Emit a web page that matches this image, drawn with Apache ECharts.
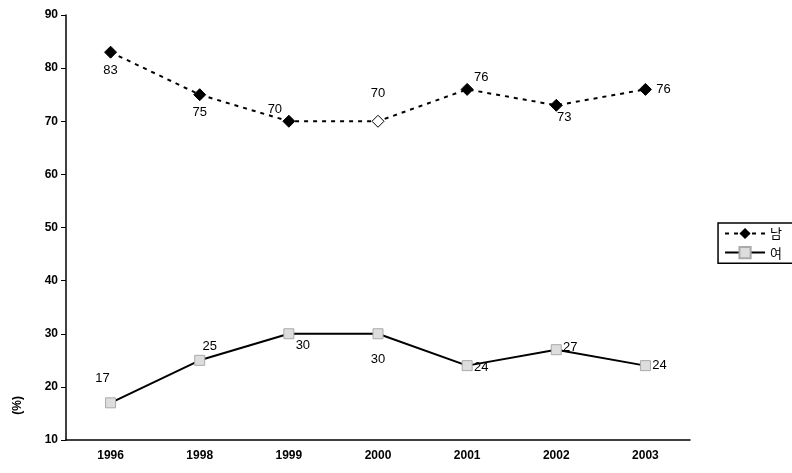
<!DOCTYPE html>
<html><head><meta charset="utf-8">
<script src="https://cdn.jsdelivr.net/npm/echarts@6/dist/echarts.min.js"></script>
<style>html,body{margin:0;background:#fff}#c{width:792px;height:473px}</style>
</head><body><div id="c"></div>
<script>
const years = ["1996", "1998", "1999", "2000", "2001", "2002", "2003"];
const male = [83, 75, 70, 70, 76, 73, 76];
const female = [17, 25, 30, 30, 24, 27, 24];
const maleLabelPos = [[0, 18], [0, 18], [-14, -12], [0, -28], [14, -12], [8, 12], [18, 0]];
const femaleLabelPos = [[-8, -24], [10, -14], [14, 12], [0, 26], [14, 2], [14, -2], [14, 0]];

const chart = echarts.init(document.getElementById("c"));
const lbl = (pos) => ({ show: true, position: "inside", offset: pos, color: "#000", fontSize: 13, fontFamily: "Liberation Sans" });

chart.setOption({
  animation: false,
  grid: { left: 66, right: 102, top: 15, bottom: 33, outerBoundsMode: "none" },
  graphic: [{
    type: "text", left: 12, top: 396, rotation: Math.PI / 2,
    style: { text: "(%)", fontSize: 12, fontWeight: "bold", fill: "#000" },
  }],
  legend: {
    right: -20, top: 223, orient: "vertical", itemWidth: 40, itemGap: 6,
    borderColor: "#000", borderWidth: 1.5, padding: [4, 30, 4, 6],
    textStyle: { fontSize: 13, color: "#000", fontFamily: "Noto Sans CJK KR" },
    data: ["남", "여"],
  },
  xAxis: {
    type: "category", data: years, boundaryGap: true,
    axisLine: { lineStyle: { color: "#000", width: 1.5 } },
    axisTick: { lineStyle: { color: "#000" }, length: 5 },
    axisLabel: { color: "#000", fontSize: 12, fontWeight: "bold", margin: 10 },
  },
  yAxis: {
    type: "value", min: 10, max: 90, interval: 10,
    axisLine: { show: true, lineStyle: { color: "#000", width: 1.5 } },
    axisTick: { show: true, lineStyle: { color: "#000" } },
    axisLabel: { color: "#000", fontSize: 12, fontWeight: "bold" },
    splitLine: { show: false },
  },
  series: [
    {
      name: "남", type: "line", data: male.map((v, i) => ({
        value: v,
        itemStyle: i === 3 ? { color: "#fff", borderColor: "#000", borderWidth: 1 } : undefined,
        label: lbl(maleLabelPos[i]),
      })),
      symbol: "diamond", symbolSize: 12,
      lineStyle: { color: "#000", width: 2, type: [4, 5] },
      itemStyle: { color: "#000", borderColor: "#000" },
    },
    {
      name: "여", type: "line", data: female.map((v, i) => ({ value: v, label: lbl(femaleLabelPos[i]) })),
      symbol: "rect", symbolSize: 10,
      lineStyle: { color: "#000", width: 2 },
      itemStyle: { color: "#ddd", borderColor: "#aaa", borderWidth: 1 },
    },
  ],
});
</script></body></html>
